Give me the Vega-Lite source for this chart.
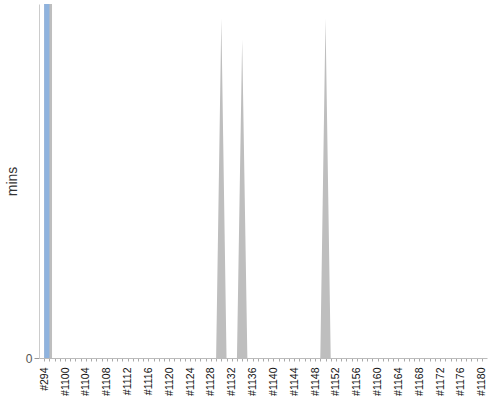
{
  "$schema": "https://vega.github.io/schema/vega-lite/v6.json",
  "width": 448,
  "height": 354,
  "autosize": "none",
  "padding": {"left": 39, "top": 4, "right": 13, "bottom": 42},
  "config": {"view": {"stroke": null}, "font": "Liberation Sans"},
  "data": {
    "values": [
      {"build": "#294", "n": 294, "status": "success", "mins": 10},
      {"build": "#1097", "n": 1097, "status": "success", "mins": 0},
      {"build": "#294", "n": 294, "status": "failed", "mins": 10},
      {"build": "#1097", "n": 1097, "status": "failed", "mins": 10},
      {"build": "#1098", "n": 1098, "status": "failed", "mins": 0},
      {"build": "#1129", "n": 1129, "status": "failed", "mins": 0},
      {"build": "#1130", "n": 1130, "status": "failed", "mins": 9.6},
      {"build": "#1131", "n": 1131, "status": "failed", "mins": 0},
      {"build": "#1133", "n": 1133, "status": "failed", "mins": 0},
      {"build": "#1134", "n": 1134, "status": "failed", "mins": 9.0},
      {"build": "#1135", "n": 1135, "status": "failed", "mins": 0},
      {"build": "#1149", "n": 1149, "status": "failed", "mins": 0},
      {"build": "#1150", "n": 1150, "status": "failed", "mins": 9.6},
      {"build": "#1151", "n": 1151, "status": "failed", "mins": 0}
    ]
  },
  "encoding": {
    "x": {
      "field": "build",
      "type": "ordinal",
      "sort": {"field": "n"},
      "scale": {
        "type": "point",
        "padding": 1,
        "domain": [
          "#294", "#1097", "#1098", "#1099", "#1100", "#1101", "#1102", "#1103", "#1104", "#1105",
          "#1106", "#1107", "#1108", "#1109", "#1110", "#1111", "#1112", "#1113", "#1114", "#1115",
          "#1116", "#1117", "#1118", "#1119", "#1120", "#1121", "#1122", "#1123", "#1124", "#1125",
          "#1126", "#1127", "#1128", "#1129", "#1130", "#1131", "#1132", "#1133", "#1134", "#1135",
          "#1136", "#1137", "#1138", "#1139", "#1140", "#1141", "#1142", "#1143", "#1144", "#1145",
          "#1146", "#1147", "#1148", "#1149", "#1150", "#1151", "#1152", "#1153", "#1154", "#1155",
          "#1156", "#1157", "#1158", "#1159", "#1160", "#1161", "#1162", "#1163", "#1164", "#1165",
          "#1166", "#1167", "#1168", "#1169", "#1170", "#1171", "#1172", "#1173", "#1174", "#1175",
          "#1176", "#1177", "#1178", "#1179", "#1180"
        ]
      },
      "axis": {
        "title": null,
        "labelAngle": 270,
        "labelFontSize": 10.5,
        "labelColor": "#111",
        "labelPadding": 6,
        "labelOverlap": false,
        "labelExpr": "datum.value == '#294' || toNumber(slice(datum.value, 1)) % 4 == 0 ? datum.value : ''",
        "tickSize": 3,
        "tickColor": "#aaa",
        "domainColor": "#bbb"
      }
    },
    "y": {
      "field": "mins",
      "type": "quantitative",
      "stack": null,
      "scale": {"domain": [0, 10]},
      "axis": {
        "title": "mins",
        "titleFontSize": 14,
        "titleFontWeight": "normal",
        "titleColor": "#333",
        "titlePadding": 6,
        "values": [0],
        "grid": false,
        "labelFontSize": 12,
        "labelColor": "#555",
        "tickSize": 5,
        "tickColor": "#999",
        "domainColor": "#ccc"
      }
    }
  },
  "layer": [
    {
      "transform": [{"filter": "datum.status == 'failed' && datum.n <= 1098"}],
      "mark": {"type": "area", "interpolate": "step", "color": "#bebebe"}
    },
    {
      "transform": [{"filter": "datum.status == 'failed' && datum.n > 1098"}],
      "mark": {"type": "area", "color": "#bebebe"}
    },
    {
      "transform": [{"filter": "datum.status == 'success'"}],
      "mark": {"type": "area", "interpolate": "step-after", "color": "#8fb3de"}
    }
  ]
}
